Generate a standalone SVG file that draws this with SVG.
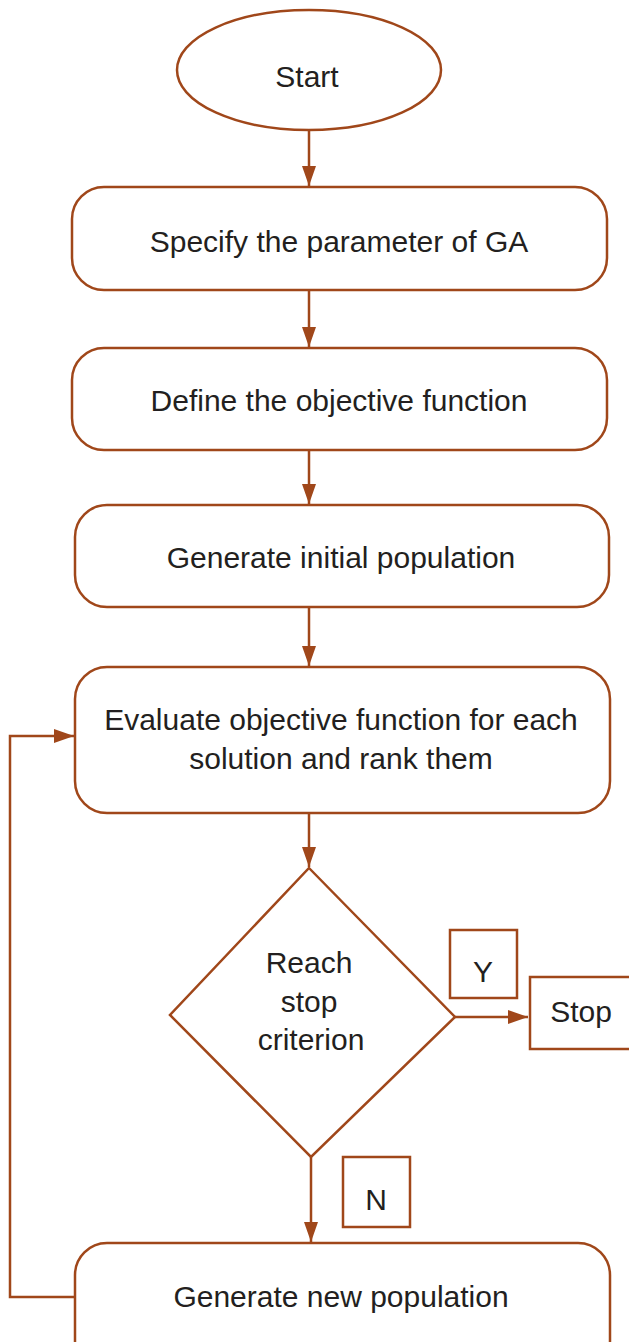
<svg xmlns="http://www.w3.org/2000/svg" width="629" height="1342" viewBox="0 0 629 1342">
<style>
.s{fill:#fff;stroke:#a0471a;stroke-width:2.5}
.c{fill:none;stroke:#a0471a;stroke-width:2.5}
.t{font-family:"Liberation Sans",Arial,sans-serif;font-size:30px;fill:#231f20;text-anchor:middle}
</style>
<defs>
<marker id="ah" markerUnits="userSpaceOnUse" markerWidth="20" markerHeight="14" viewBox="0 0 20 14" refX="20" refY="7" orient="auto">
<path d="M0,0 L20,7 L0,14 Z" fill="#a0471a"/>
</marker>
</defs>
<g id="connectors">
<line class="c" x1="309" y1="130" x2="309" y2="186" marker-end="url(#ah)"/>
<line class="c" x1="309" y1="290" x2="309" y2="347" marker-end="url(#ah)"/>
<line class="c" x1="309" y1="450" x2="309" y2="504" marker-end="url(#ah)"/>
<line class="c" x1="309" y1="607" x2="309" y2="666" marker-end="url(#ah)"/>
<line class="c" x1="309" y1="813" x2="309" y2="867" marker-end="url(#ah)"/>
<line class="c" x1="455" y1="1017" x2="528" y2="1017" marker-end="url(#ah)"/>
<line class="c" x1="311" y1="1157" x2="311" y2="1242" marker-end="url(#ah)"/>
<polyline class="c" points="75,1297 10,1297 10,736 74,736" marker-end="url(#ah)"/>
</g>
<g id="start">
<ellipse class="s" cx="309" cy="70" rx="132" ry="60"/>
<text class="t" x="307" y="87">Start</text>
</g>
<g id="specify">
<rect class="s" x="72" y="187" width="535" height="103" rx="32"/>
<text class="t" x="339" y="252">Specify the parameter of GA</text>
</g>
<g id="define">
<rect class="s" x="72" y="348" width="535" height="102" rx="32"/>
<text class="t" x="339" y="411">Define the objective function</text>
</g>
<g id="generate-initial">
<rect class="s" x="75" y="505" width="534" height="102" rx="32"/>
<text class="t" x="341" y="568">Generate initial population</text>
</g>
<g id="evaluate">
<rect class="s" x="75" y="667" width="535" height="146" rx="32"/>
<text class="t" x="341" y="730">Evaluate objective function for each</text>
<text class="t" x="341" y="769">solution and rank them</text>
</g>
<g id="decision">
<polygon class="s" points="309,868 455,1017 311,1157 170,1015"/>
<text class="t" x="309" y="973">Reach</text>
<text class="t" x="309" y="1012">stop</text>
<text class="t" x="311" y="1050">criterion</text>
</g>
<g id="label-y">
<rect class="s" x="450" y="930" width="67" height="68"/>
<text class="t" x="483" y="982">Y</text>
</g>
<g id="stop">
<rect class="s" x="530" y="977" width="110" height="72"/>
<text class="t" x="581" y="1022">Stop</text>
</g>
<g id="label-n">
<rect class="s" x="343" y="1157" width="67" height="70"/>
<text class="t" x="376" y="1210">N</text>
</g>
<g id="generate-new">
<rect class="s" x="75" y="1243" width="535" height="130" rx="32"/>
<text class="t" x="341" y="1307">Generate new population</text>
</g>
</svg>
